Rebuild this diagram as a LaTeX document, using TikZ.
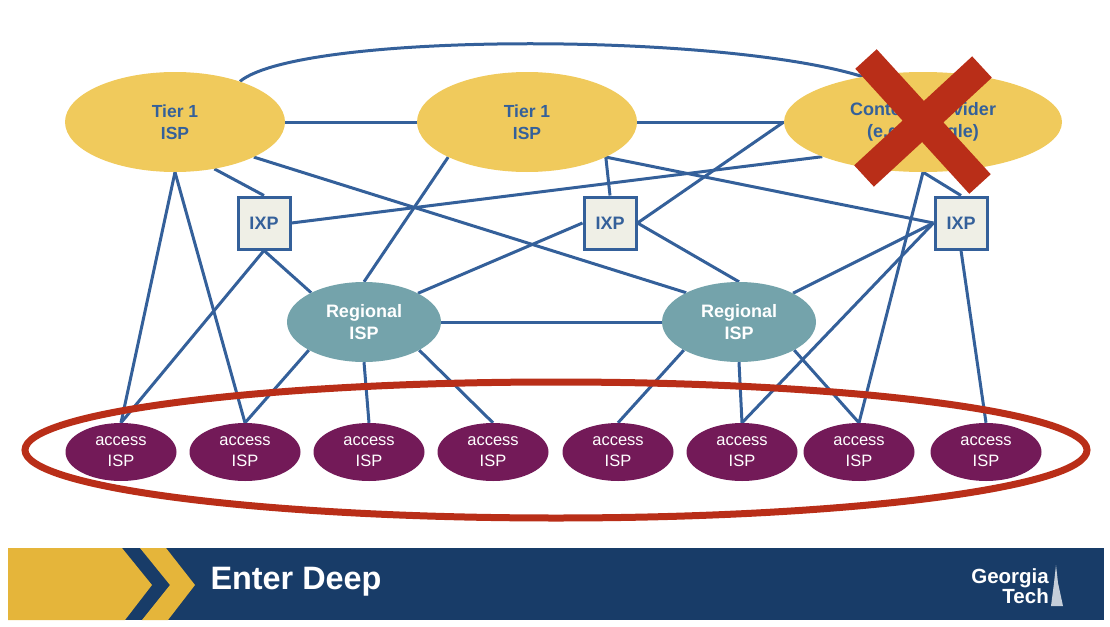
\documentclass[tikz,border=0pt]{standalone}
\usepackage{fontspec}
\setmainfont{Liberation Sans}
\usetikzlibrary{shapes.geometric}
\pgfdeclarelayer{bg}
\pgfsetlayers{bg,main}
\definecolor{linkblue}{HTML}{34609A}
\definecolor{tiergold}{HTML}{F0CA5C}
\definecolor{regionteal}{HTML}{74A3AB}
\definecolor{accessplum}{HTML}{731A58}
\definecolor{crossred}{HTML}{B92E18}
\definecolor{barnavy}{HTML}{183C68}
\definecolor{bargold}{HTML}{E5B53A}
\definecolor{ixpgrey}{HTML}{EFEFE6}
\tikzset{
  tierisp/.style={ellipse, fill=tiergold, inner sep=0pt, minimum width=220pt, minimum height=100pt,
    align=center, text=linkblue, font=\fontsize{17.5}{22}\selectfont\bfseries},
  ixpbox/.style={rectangle, draw=linkblue, line width=3pt, fill=ixpgrey, minimum size=52pt, inner sep=0pt,
    text=linkblue, font=\fontsize{18}{20}\selectfont\bfseries},
  regionalisp/.style={ellipse, fill=regionteal, inner sep=0pt, minimum width=154pt, minimum height=80pt,
    align=center, text=white, font=\fontsize{18}{22}\selectfont\bfseries},
  accessisp/.style={ellipse, fill=accessplum, inner sep=0pt, minimum width=111pt, minimum height=58pt,
    align=center, text=white, font=\fontsize{16.5}{21}\selectfont},
  link/.style={draw=linkblue, line width=3pt},
}
\begin{document}
\begin{tikzpicture}[x=1pt, y=-1pt]
        \useasboundingbox (0,0) rectangle (1110,626);
        % bottom bar
        \fill [barnavy] (8,548) rectangle (1104,620);
        \fill [bargold] (8,548) -- (122,548) -- (152,585) -- (125,620) -- (8,620) -- cycle;
        \fill [bargold] (140,548) -- (166,548) -- (195,585) -- (168,620) -- (142,620) -- (170,585) -- cycle;
        \node (title) [anchor=west, text=white, font=\fontsize{32.4}{34}\selectfont\bfseries] at (207,582) {Enter Deep};
        \node (logo) [anchor=east, align=right, text=white, inner sep=0pt, font=\fontsize{20.5}{14}\selectfont\bfseries] at (1049,586) {Georgia\\Tech};
        \fill [white!75!barnavy] (1056,565) -- (1058,583) -- (1063,606) -- (1051,606) -- (1054,583) -- cycle;
        % nodes
        \node (v0) [tierisp] at (175,122) {Tier 1\\ISP};
        \node (v1) [tierisp] at (527,122) {Tier 1\\ISP};
        \node (v2) [tierisp, font=\fontsize{18}{22}\selectfont\bfseries, minimum width=278pt] at (923,122) {Content Provider\\(e.g. Google)};
        \node (x0) [ixpbox] at (264,223) {IXP};
        \node (x1) [ixpbox] at (610,223) {IXP};
        \node (x2) [ixpbox] at (961,223) {IXP};
        \node (r0) [regionalisp] at (364,322) {Regional\\ISP};
        \node (r1) [regionalisp] at (739,322) {Regional\\ISP};
        \node (a0) [accessisp] at (121,452) {access\\ISP};
        \node (a1) [accessisp] at (245,452) {access\\ISP};
        \node (a2) [accessisp] at (369,452) {access\\ISP};
        \node (a3) [accessisp] at (493,452) {access\\ISP};
        \node (a4) [accessisp] at (618,452) {access\\ISP};
        \node (a5) [accessisp] at (742,452) {access\\ISP};
        \node (a6) [accessisp] at (859,452) {access\\ISP};
        \node (a7) [accessisp] at (986,452) {access\\ISP};
        \begin{pgfonlayer}{bg}
                \draw [link] (v0.32) .. controls (300,32) and (720,32) .. (v2.143);
                \draw [link] (v0) -- (v1);
                \draw [link] (v1) -- (v2);
                \draw [link] (v0.south) -- (a0.north);
                \draw [link] (v0.south) -- (a1.north);
                \draw [link] (v0.-50) -- (x0.north);
                \draw [link] (v0.-24) -- (r1.151);
                \draw [link] (v1.204) -- (r0.north);
                \draw [link] (v1.-24) -- (x1.north);
                \draw [link] (v1.-24) -- (x2.west);
                \draw [link] (v2.west) -- (x1.east);
                \draw [link] (v2.199) -- (x0.east);
                \draw [link] (v2.south) -- (x2.north);
                \draw [link] (v2.south) -- (a6.north);
                \draw [link] (x0.south) -- (a0.north);
                \draw [link] (x0.south) -- (r0.151);
                \draw [link] (x1.west) -- (r0.28);
                \draw [link] (x1.east) -- (r1.north);
                \draw [link] (x2.west) -- (r1.28);
                \draw [link] (x2.west) -- (a5.north);
                \draw [link] (x2.south) -- (a7.north);
                \draw [link] (r0) -- (r1);
                \draw [link] (r0.207) -- (a1.north);
                \draw [link] (r0.south) -- (a2.north);
                \draw [link] (r0.-27) -- (a3.north);
                \draw [link] (r1.207) -- (a4.north);
                \draw [link] (r1.south) -- (a5.north);
                \draw [link] (r1.-27) -- (a6.north);
        \end{pgfonlayer}
        % red ring and cross
        \draw [crossred, line width=7pt] (556,450) ellipse [x radius=531, y radius=68];
        \draw [crossred, line width=29pt] (866,59) -- (980,184);
        \draw [crossred, line width=29pt] (982,67) -- (864,176);
\end{tikzpicture}
\end{document}
